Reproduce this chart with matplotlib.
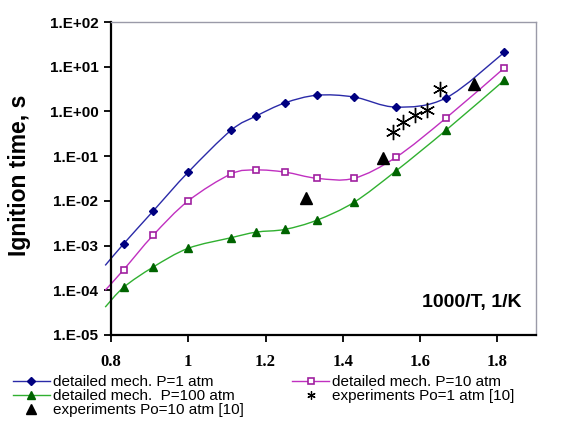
import numpy as np
import matplotlib
matplotlib.use("Agg")
import matplotlib.pyplot as plt
from matplotlib.path import Path
from matplotlib.patches import PathPatch
from matplotlib.lines import Line2D
from matplotlib.ticker import FixedLocator, FuncFormatter

# ---- data (1000/T, ignition time in s) ----
x_calc = [0.785, 0.833, 0.909, 1.0, 1.111, 1.176, 1.25, 1.333, 1.429, 1.538, 1.667, 1.818]
t_p1 = [3.6e-4, 1.1e-3, 5.9e-3, 0.044, 0.38, 0.79, 1.55, 2.3, 2.1, 1.25, 2.0, 21.0]
t_p10 = [1.0e-4, 2.9e-4, 1.7e-3, 1.0e-2, 0.040, 0.049, 0.044, 0.032, 0.032, 0.095, 0.71, 9.4]
t_p100 = [4.2e-5, 1.17e-4, 3.3e-4, 8.7e-4, 1.5e-3, 2.0e-3, 2.3e-3, 3.7e-3, 9.3e-3, 0.047, 0.38, 5.0]

exp1_x = [1.531, 1.557, 1.588, 1.619, 1.652]
exp1_t = [0.35, 0.58, 0.83, 1.07, 3.2]
exp10_x = [1.304, 1.505, 1.740]
exp10_t = [0.0115, 0.091, 4.1]

x_ticks = [0.8, 1.0, 1.2, 1.4, 1.6, 1.8]
x_tick_labels = ["0.8", "1", "1.2", "1.4", "1.6", "1.8"]
y_exponents = [-5, -4, -3, -2, -1, 0, 1, 2]

labels = ["detailed mech. P=1 atm", "detailed mech.  P=100 atm",
          "experiments Po=10 atm [10]", "detailed mech. P=10 atm",
          "experiments Po=1 atm [10]"]


def smooth_path(x, y):
    """Excel-like smoothed line as cubic Bezier path (in x / log10 y space)."""
    X = np.asarray(x, float)
    L = np.log10(np.asarray(y, float))
    n = len(X)
    verts = [(X[0], L[0])]
    codes = [Path.MOVETO]
    for i in range(n - 1):
        p0 = i - 1 if i > 0 else i
        p3 = i + 2 if i + 2 < n else i + 1
        c1 = (X[i] + (X[i + 1] - X[p0]) / 6, L[i] + (L[i + 1] - L[p0]) / 6)
        c2 = (X[i + 1] - (X[p3] - X[i]) / 6, L[i + 1] - (L[p3] - L[i]) / 6)
        verts += [c1, c2, (X[i + 1], L[i + 1])]
        codes += [Path.CURVE4] * 3
    verts = [(vx, 10 ** vl) for vx, vl in verts]
    return Path(verts, codes)


fig = plt.figure(figsize=(5.71, 4.37), dpi=100)
ax = fig.add_axes([111 / 571, 1 - 335 / 437, 425 / 571, 313 / 437])
ax.set_yscale("log")
ax.set_xlim(0.8, 1.9)
ax.set_ylim(1e-5, 1e2)

styles = [
    (t_p1, "#2a2aa8", dict(marker="D", ms=4.5, mfc="#000080", mec="#000080")),
    (t_p10, "#c030c0", dict(marker="s", ms=5, mfc="white", mec="#a020a0", mew=1.2)),
    (t_p100, "#30b030", dict(marker="^", ms=6, mfc="#006400", mec="#006400")),
]
handles = {}
for t, lc, mk in styles:
    ax.add_patch(PathPatch(smooth_path(x_calc, t), facecolor="none",
                           edgecolor=lc, lw=1.0, clip_on=False, zorder=2))
    ax.plot(x_calc[1:], t[1:], linestyle="none", zorder=3, clip_on=False, **mk)
    handles[lc] = Line2D([], [], color=lc, lw=1.0, **mk)

ax.plot(exp1_x, exp1_t, linestyle="none", marker=(6, 2, 0), ms=11,
        mec="black", mew=1.0, zorder=4)
ax.plot(exp10_x, exp10_t, linestyle="none", marker="^", ms=9,
        mfc="black", mec="black", zorder=4)

# axes styling
for s in ["left", "bottom"]:
    ax.spines[s].set_color("black")
    ax.spines[s].set_linewidth(1.6)
for s in ["top", "right"]:
    ax.spines[s].set_color("#9a9aa8")
    ax.spines[s].set_linewidth(1.0)

ax.xaxis.set_major_locator(FixedLocator(x_ticks))
ax.set_xticklabels(x_tick_labels)
ax.yaxis.set_major_locator(FixedLocator([10.0 ** e for e in y_exponents]))
ax.yaxis.set_minor_locator(FixedLocator([]))
ax.yaxis.set_major_formatter(FuncFormatter(lambda v, p: "1.E%+03d" % int(round(np.log10(v)))))
ax.tick_params(axis="both", direction="out", length=5, width=1.3, color="black")
ax.tick_params(axis="x", pad=9)
ax.tick_params(axis="y", pad=4)
for lab in ax.get_xticklabels():
    lab.set_fontfamily("Liberation Serif")
    lab.set_fontweight("bold")
    lab.set_fontsize(12)
for lab in ax.get_yticklabels():
    lab.set_fontfamily("Liberation Sans")
    lab.set_fontweight("bold")
    lab.set_fontsize(11)

ax.text((522 - 111) / 425, (335 - 303) / 313, "1000/T, 1/K", transform=ax.transAxes,
        ha="right", va="center", fontsize=14, fontweight="bold", family="Liberation Sans")
fig.text(20 / 571, 1 - 175 / 437, "Ignition time, s", rotation=90, ha="center", va="center",
         fontsize=16.5, fontweight="bold", family="Liberation Sans")

exp1_handle = Line2D([], [], linestyle="none", marker=(6, 2, 0), ms=6, mec="black", mew=0.9)
exp10_handle = Line2D([], [], linestyle="none", marker="^", ms=7, mfc="black", mec="black")
hl = [handles["#2a2aa8"], handles["#30b030"], exp10_handle, handles["#c030c0"], exp1_handle]
fig.legend(hl, labels, ncol=2, loc="upper left", bbox_to_anchor=(13 / 571, 1 - 375 / 437),
           frameon=False, prop={"family": "Liberation Sans", "size": 11},
           handlelength=2.4, handletextpad=0.2, labelspacing=0.0, columnspacing=3.2,
           borderpad=0, borderaxespad=0, numpoints=1)

fig.savefig("out.png", dpi=100)
